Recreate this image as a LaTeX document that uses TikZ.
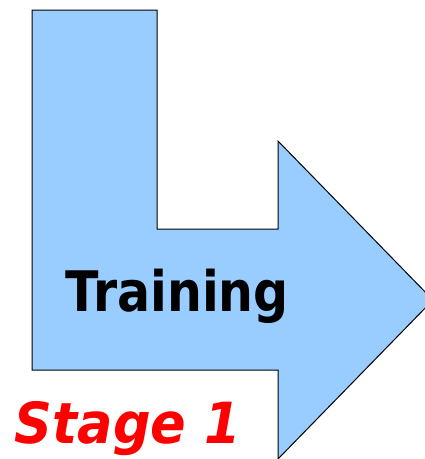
\documentclass[tikz,border=0pt]{standalone}
\usepackage{fontspec}
\setmainfont{DejaVu Sans}
\definecolor{arrowblue}{HTML}{99CCFF}
\definecolor{stagered}{HTML}{FF0000}

\begin{document}
\begin{tikzpicture}[x=1pt, y=-1pt]
 \useasboundingbox (0, 0) rectangle (425, 459);
 \clip (0, 0) rectangle (425, 459);
 % the bent arrow
 \draw[fill=arrowblue, line width=1pt] (32, 10) -- (157, 10) -- (157, 229) -- (278, 229) -- (278, 141)
   -- (433, 300) -- (278, 459) -- (278, 370) -- (32, 370) -- cycle;

 \node[anchor=base, inner sep=0pt, font=\fontsize{49}{49}\selectfont\bfseries] (training) at (177, 311) {\scalebox{1}[1.14]{Training}};
 \node[anchor=base, inner sep=0pt, text=stagered, font=\fontsize{52.5}{52.5}\selectfont\bfseries\itshape] (stage) at (128, 443) {\scalebox{1}[1.08]{Stage 1}};
\end{tikzpicture}
\end{document}
